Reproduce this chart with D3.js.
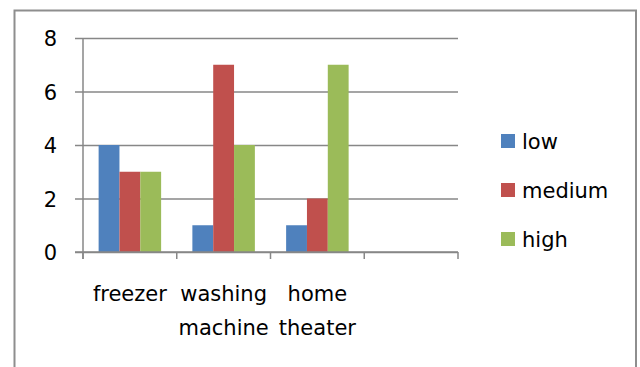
<!DOCTYPE html>
<html>
<head>
<meta charset="utf-8">
<script src="https://cdn.jsdelivr.net/npm/d3@7"></script>
<style>
  html, body { margin: 0; padding: 0; background: #fff; }
  svg { display: block; }
  text { font-family: "DejaVu Sans", sans-serif; fill: #000; }
</style>
</head>
<body>
<svg id="chart" width="640" height="367"></svg>
<script>
// Appliance ratings by level
const categories = ["freezer", "washing machine", "home theater", ""];
const seriesNames = ["low", "medium", "high"];
const low    = [4, 1, 1, null];
const medium = [3, 7, 2, null];
const high   = [3, 4, 7, null];
const yTicks = [0, 2, 4, 6, 8];
const colors = ["#4F81BD", "#C0504D", "#9BBB59"];

const seriesValues = [low, medium, high];

const svg = d3.select("#chart");
const W = 640, H = 367;
const margin = { left: 83, right: 182, top: 38, bottom: 115 };
const fontSize = 21;
const gridColor = "#878787";

// Outer chart frame (bottom edge runs past the canvas)
svg.append("rect")
  .attr("x", 14.5).attr("y", 10.5)
  .attr("width", 621.5).attr("height", 400)
  .attr("fill", "none")
  .attr("stroke", "#8e8e8e")
  .attr("stroke-width", 2);

const x0 = d3.scaleBand()
  .domain(d3.range(categories.length))
  .range([margin.left, W - margin.right])
  .paddingInner(0).paddingOuter(0);

// 150% gap width: bar = band / 4.5, group centered
const barW = x0.bandwidth() / 4.5;
const x1 = d3.scaleBand()
  .domain(d3.range(seriesNames.length))
  .range([0, barW * seriesNames.length]);

const y = d3.scaleLinear()
  .domain([0, 8])
  .range([H - margin.bottom, margin.top]);

// Horizontal gridlines with left ticks
const yAxis = d3.axisLeft(y)
  .tickValues(yTicks)
  .tickSize(-(W - margin.right - margin.left))
  .tickSizeOuter(0)
  .tickPadding(0)
  .tickFormat(d3.format("d"));

const gy = svg.append("g")
  .attr("transform", `translate(${margin.left},0)`)
  .call(yAxis);
gy.select(".domain").remove();
gy.selectAll(".tick line")
  .attr("x1", -8)
  .attr("stroke", gridColor)
  .attr("stroke-width", 1.5);
gy.selectAll(".tick text")
  .attr("x", -26)
  .attr("dy", "0.36em")
  .style("font-size", fontSize + "px")
  .attr("text-anchor", "end");

// Bars
const groups = svg.append("g")
  .selectAll("g")
  .data(categories.map((c, i) => i))
  .join("g")
  .attr("transform", i => `translate(${x0(i) + (x0.bandwidth() - barW * seriesNames.length) / 2},0)`);

groups.selectAll("rect")
  .data(i => seriesValues.map((s, k) => ({ k, v: s[i] })).filter(d => d.v != null))
  .join("rect")
  .attr("x", d => x1(d.k))
  .attr("width", x1.bandwidth())
  .attr("y", d => y(d.v))
  .attr("height", d => y(0) - y(d.v))
  .attr("fill", d => colors[d.k]);

// Category axis with tick marks at band edges
const baseY = y(0);
const xAxisG = svg.append("g");
xAxisG.append("line")
  .attr("x1", margin.left - 8).attr("x2", W - margin.right)
  .attr("y1", baseY).attr("y2", baseY)
  .attr("stroke", gridColor).attr("stroke-width", 1.5);
xAxisG.append("line")
  .attr("x1", margin.left).attr("x2", margin.left)
  .attr("y1", margin.top).attr("y2", baseY + 7)
  .attr("stroke", gridColor).attr("stroke-width", 1.5);
const edges = d3.range(categories.length + 1).map(i =>
  i < categories.length ? x0(i) : x0(i - 1) + x0.bandwidth());
xAxisG.selectAll("line.cat-tick")
  .data(edges)
  .join("line")
  .attr("class", "cat-tick")
  .attr("x1", d => d).attr("x2", d => d)
  .attr("y1", baseY).attr("y2", baseY + 7)
  .attr("stroke", gridColor).attr("stroke-width", 1.5);

// Category labels, wrapped to the band width
const lineHeight = 34;
const labels = xAxisG.selectAll("text.cat")
  .data(categories)
  .join("text")
  .attr("class", "cat")
  .attr("text-anchor", "middle")
  .style("font-size", fontSize + "px")
  .attr("x", (d, i) => x0(i) + x0.bandwidth() / 2)
  .attr("y", 301);

labels.each(function(d, i) {
  const t = d3.select(this);
  const cx = x0(i) + x0.bandwidth() / 2;
  const words = d.split(" ").filter(w => w.length);
  let lines = [];
  let line = [];
  const probe = t.append("tspan");
  words.forEach(w => {
    line.push(w);
    probe.text(line.join(" "));
    if (probe.node().getComputedTextLength() > x0.bandwidth() && line.length > 1) {
      line.pop();
      lines.push(line.join(" "));
      line = [w];
    }
  });
  if (line.length) lines.push(line.join(" "));
  probe.remove();
  lines.forEach((ln, j) => {
    t.append("tspan")
      .attr("x", cx)
      .attr("y", 301 + j * lineHeight)
      .text(ln);
  });
});

// Legend
const legend = svg.append("g");
const legendRows = legend.selectAll("g")
  .data(seriesNames)
  .join("g")
  .attr("transform", (d, i) => `translate(501,${134 + i * 49})`);
legendRows.append("rect")
  .attr("width", 14).attr("height", 14)
  .attr("fill", (d, i) => colors[i]);
legendRows.append("text")
  .attr("x", 21)
  .attr("y", 15)
  .style("font-size", fontSize + "px")
  .text(d => d);
</script>
</body>
</html>
